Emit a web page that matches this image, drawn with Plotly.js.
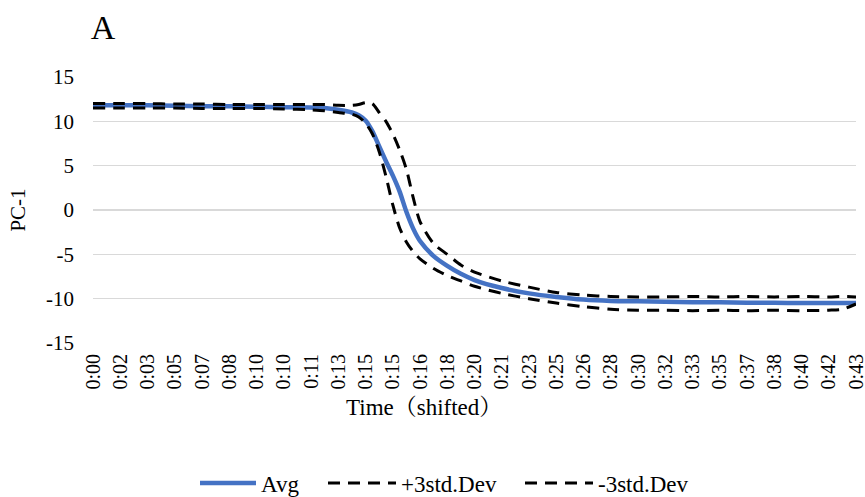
<!DOCTYPE html>
<html>
<head>
<meta charset="utf-8">
<script src="https://cdn.plot.ly/plotly-3.0.1.min.js"></script>
<style>html,body{margin:0;padding:0;background:#fff;}#chart{width:865px;height:497px;}</style>
</head>
<body>
<div id="chart"></div>
<script>
// Tick labels of the category axis (one per label slot)
const tickLabels = ["0:00","0:02","0:03","0:05","0:07","0:08","0:10","0:10","0:11","0:13","0:15","0:15","0:16","0:18","0:20","0:21","0:23","0:25","0:26","0:28","0:30","0:32","0:33","0:35","0:37","0:38","0:40","0:42","0:43"];
const yTickVals = [-15, -10, -5, 0, 5, 10, 15];
const yTickText = ["-15", "-10", "-5", "0", "5", "10", "15"];
// Sample positions, in label-slot units
const samplePos = [0,1,2,3,4,5,6,7,8,8.5,9,9.5,9.75,10,10.25,10.5,10.75,11,11.25,11.5,11.75,12,12.5,13,13.5,14,15,16,17,18,19,20,21,22,23,24,25,26,27,27.5,28];
const avg =    [11.8,11.8,11.8,11.75,11.7,11.7,11.65,11.6,11.55,11.5,11.3,11.0,10.7,10.1,8.9,7.2,5.5,3.9,2.1,-0.2,-2.1,-3.5,-5.2,-6.3,-7.2,-7.9,-8.8,-9.4,-9.8,-10.1,-10.25,-10.3,-10.35,-10.4,-10.4,-10.45,-10.45,-10.5,-10.5,-10.5,-10.5];
const plus3 =  [12.0,12.0,12.0,11.95,11.95,11.9,11.9,11.9,11.9,11.9,11.8,11.8,11.9,12.1,12.0,11.0,10.0,8.6,6.8,4.6,1.4,-1.3,-3.8,-5.0,-6.2,-7.0,-8.0,-8.7,-9.3,-9.6,-9.75,-9.8,-9.8,-9.75,-9.8,-9.75,-9.8,-9.75,-9.8,-9.75,-9.8];
const minus3 = [11.5,11.5,11.5,11.5,11.45,11.45,11.45,11.4,11.3,11.2,11.0,10.8,10.5,9.8,8.6,6.6,3.8,0.6,-2.0,-3.6,-4.7,-5.5,-6.6,-7.4,-8.0,-8.6,-9.4,-10.0,-10.5,-10.9,-11.2,-11.3,-11.3,-11.35,-11.3,-11.35,-11.3,-11.35,-11.3,-11.2,-10.6];

const serif = "Liberation Serif, 'Times New Roman', 'Noto Serif CJK SC', 'Noto Sans CJK SC', serif";
const traces = [
  {x: samplePos, y: avg, name: "Avg", mode: "lines", legend: "legend",
   line: {color: "#4472C4", width: 4.5, shape: "spline", smoothing: 0.7}},
  {x: samplePos, y: plus3, name: "+3std.Dev", mode: "lines", legend: "legend2",
   line: {color: "#000000", width: 3, dash: "12px,8px", shape: "spline", smoothing: 0.7}},
  {x: samplePos, y: minus3, name: "-3std.Dev", mode: "lines", legend: "legend3",
   line: {color: "#000000", width: 3, dash: "12px,8px", shape: "spline", smoothing: 0.7}}
];
function legendAt(px, w) {
  return {orientation: "h", x: px / 865, xanchor: "left", xref: "container", y: 0.028, yanchor: "middle", yref: "container",
          font: {family: serif, size: 23, color: "#000"}, itemwidth: w, bgcolor: "rgba(0,0,0,0)"};
}
const layout = {
  width: 865, height: 497,
  margin: {l: 93, r: 9, t: 77, b: 154},
  paper_bgcolor: "#fff", plot_bgcolor: "#fff",
  font: {family: serif, size: 21, color: "#000"},
  title: {text: "A", x: 0.105, xref: "container", xanchor: "left", y: 0.946, yref: "container", yanchor: "middle",
          font: {family: serif, size: 34, color: "#000"}},
  xaxis: {
    range: [0, 28], tickmode: "array",
    tickvals: tickLabels.map((_, i) => i), ticktext: tickLabels,
    tickangle: -90, showgrid: false, zeroline: false,
    showline: false, ticks: "", ticklabelstandoff: 6, ticklabeloverflow: "allow",
    tickfont: {family: serif, size: 20, color: "#000"},
    automargin: false
  },
  yaxis: {
    range: [-15, 15], tickmode: "array", tickvals: yTickVals, ticktext: yTickText,
    showgrid: true, gridcolor: "#d9d9d9", gridwidth: 1.5,
    zeroline: false, showline: false, ticks: "", ticklabelstandoff: 18,
    tickfont: {family: serif, size: 21, color: "#000"},
    title: {text: "PC-1", font: {family: serif, size: 21, color: "#000"}, standoff: 14},
    automargin: false
  },
  annotations: [{
    text: "Time（shifted）", xref: "paper", yref: "paper", x: (344 - 93) / 763, xanchor: "left",
    y: -(407 - 343) / 266, yanchor: "middle", showarrow: false,
    font: {family: serif, size: 23, color: "#000"}
  }],
  showlegend: true,
  legend: legendAt(195, 56),
  legend2: legendAt(323, 68),
  legend3: legendAt(520, 68)
};
Plotly.newPlot("chart", traces, layout, {displayModeBar: false, staticPlot: true});
</script>
</body>
</html>
